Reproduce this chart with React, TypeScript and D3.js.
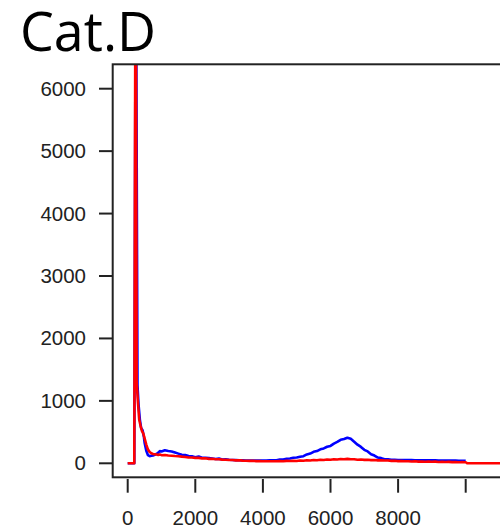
import React from "react";
import * as d3 from "d3";

const title = "Cat.D";
const xTicks = [0, 2000, 4000, 6000, 8000, 10000];
const xTickLabels = ["0", "2000", "4000", "6000", "8000", ""];
const yTicks = [0, 1000, 2000, 3000, 4000, 5000, 6000];

// head bins (fine resolution around the spike)
const redHeadX = [0, 100, 195, 235, 265, 300, 340, 380, 420, 460, 500, 550, 600, 650, 700, 750, 800, 850, 900, 950, 1000];
const redHeadY = [0, 0, 0, 9500, 1300, 1000, 700, 600, 520, 480, 400, 300, 220, 180, 160, 150, 145, 140, 135, 142, 130];
const blueHeadX = [0, 100, 195, 240, 290, 320, 360, 400, 440, 480, 500, 550, 600, 650, 700, 750, 800, 850, 900, 950, 1000];
const blueHeadY = [0, 0, 0, 9000, 1250, 950, 700, 560, 530, 420, 330, 200, 130, 115, 120, 125, 135, 150, 170, 195, 190];

// tail bins 1100..10000 step 100
const blueTail = [
  210, 198, 190, 172, 155, 138, 134, 116, 114, 98,
  108, 90, 89, 86, 78, 69, 75, 61, 63, 56,
  53, 51, 48, 47, 44, 44, 43, 43, 44, 44,
  43, 47, 48, 50, 60, 62, 72, 78, 88, 93,
  106, 114, 142, 156, 184, 196, 224, 238, 265, 278,
  315, 342, 376, 388, 410, 392, 346, 298, 262, 216,
  190, 146, 124, 92, 83, 66, 64, 56, 57, 54,
  54, 52, 52, 51, 50, 49, 49, 48, 48, 47,
  47, 45, 46, 45, 45, 43, 44, 42, 42, 40,
];
const redTail = [
  132, 124, 122, 117, 114, 107, 102, 94, 94, 87,
  87, 79, 80, 71, 72, 65, 64, 59, 58, 53,
  52, 47, 48, 43, 42, 39, 40, 35, 37, 33,
  34, 33, 34, 32, 37, 32, 39, 36, 41, 38,
  45, 42, 48, 46, 53, 50, 58, 53, 61, 58,
  65, 62, 68, 64, 71, 64, 65, 58, 60, 55,
  57, 51, 52, 47, 48, 44, 44, 39, 40, 35,
  37, 33, 34, 29, 32, 27, 30, 25, 28, 24,
  27, 22, 25, 20, 23, 19, 22, 17, 20, 17,
];
const redEndX = [10050, 10500, 11200];
const redEndY = [0, 0, 0];

const W = 500;
const H = 531;
const box = { left: 112.7, top: 64.3, right: 540, bottom: 477.3 };

export default function App() {
  const x = d3.scaleLinear().domain([0, 10000]).range([127.7, 465.7]);
  const y = d3.scaleLinear().domain([0, 6000]).range([463.3, 88.7]);

  const tailX = d3.range(1100, 10001, 100);
  const blue: [number, number][] = [
    ...blueHeadX.map((v, i) => [v, blueHeadY[i]] as [number, number]),
    ...tailX.map((v, i) => [v, blueTail[i]] as [number, number]),
  ];
  const red: [number, number][] = [
    ...redHeadX.map((v, i) => [v, redHeadY[i]] as [number, number]),
    ...tailX.map((v, i) => [v, redTail[i]] as [number, number]),
    ...redEndX.map((v, i) => [v, redEndY[i]] as [number, number]),
  ];
  const line = d3
    .line<[number, number]>()
    .x((d) => x(d[0]))
    .y((d) => y(d[1]));

  const font = "'Liberation Sans', Arial, Helvetica, sans-serif";

  return (
    <svg
      width={W}
      height={H}
      style={{ position: "absolute", left: 0, top: 0, background: "#fff" }}
    >
      <defs>
        <clipPath id="plotclip">
          <rect x={box.left} y={box.top} width={box.right - box.left} height={box.bottom - box.top} />
        </clipPath>
      </defs>
      <text
        x={20}
        y={51}
        fontFamily="'Open Sans', 'Noto Sans', sans-serif"
        fontSize={54}
        textLength={136}
        lengthAdjust="spacingAndGlyphs"
        fill="#000"
      >
        {title}
      </text>
      <g clipPath="url(#plotclip)">
        <path d={line(blue) || ""} fill="none" stroke="#0000ff" strokeWidth={2.6} strokeLinejoin="round" />
        <path d={line(red) || ""} fill="none" stroke="#ff0000" strokeWidth={2.6} strokeLinejoin="round" />
      </g>
      <rect
        x={box.left}
        y={box.top}
        width={box.right - box.left}
        height={box.bottom - box.top}
        fill="none"
        stroke="#222"
        strokeWidth={2}
      />
      {yTicks.map((t) => (
        <g key={"y" + t}>
          <line x1={99} x2={box.left} y1={y(t)} y2={y(t)} stroke="#222" strokeWidth={2} />
          <text
            x={86}
            y={y(t) + 7}
            textAnchor="end"
            fontFamily={font}
            fontSize={20.5}
            fill="#222"
          >
            {t}
          </text>
        </g>
      ))}
      {xTicks.map((t, i) => (
        <g key={"x" + t}>
          <line x1={x(t)} x2={x(t)} y1={479} y2={492.7} stroke="#222" strokeWidth={2} />
          <text
            x={x(t)}
            y={524.5}
            textAnchor="middle"
            fontFamily={font}
            fontSize={20.5}
            fill="#222"
          >
            {xTickLabels[i]}
          </text>
        </g>
      ))}
    </svg>
  );
}
